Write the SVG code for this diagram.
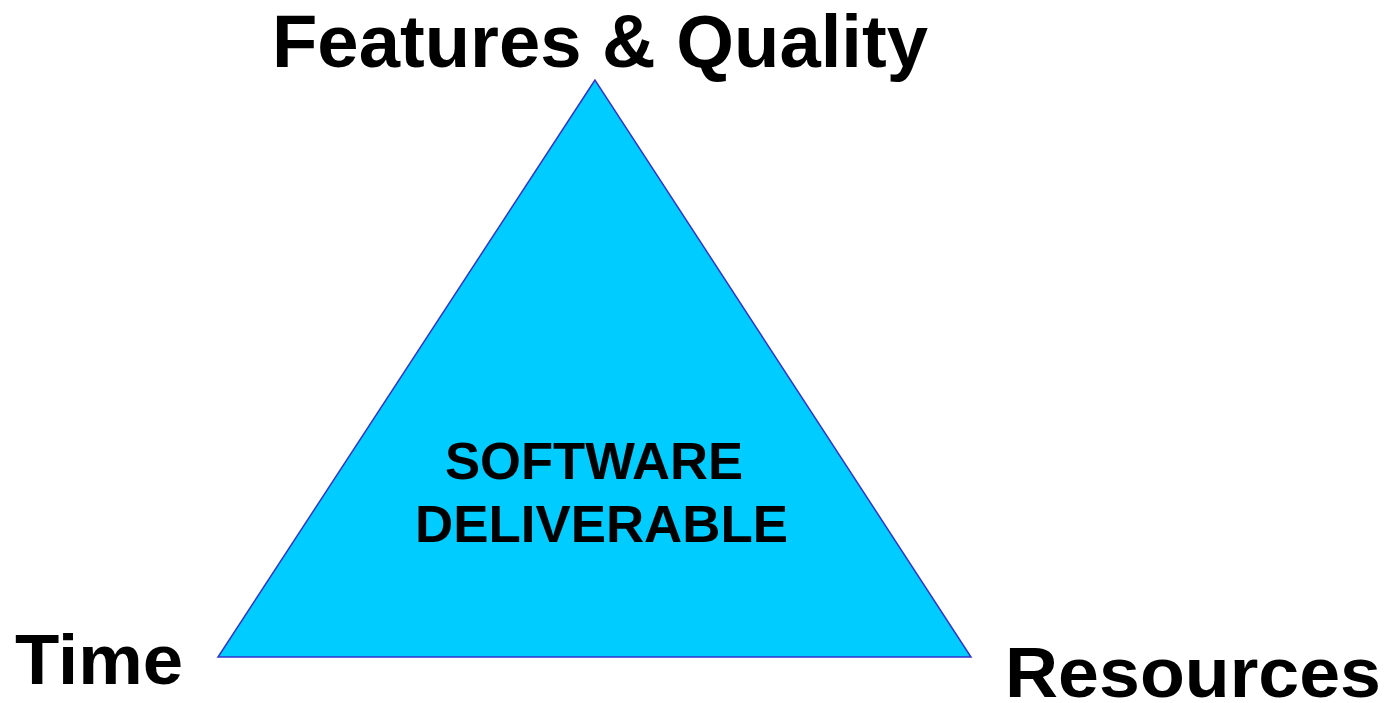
<svg xmlns="http://www.w3.org/2000/svg" width="1386" height="703" viewBox="0 0 1386 703">
<style>
.lbl{font-family:"Liberation Sans",Arial,sans-serif;font-weight:bold;fill:#000}
</style>
<rect width="1386" height="703" fill="#fff"/>
<g id="triangle">
<polygon points="595,80 218,657 971,657" fill="#00CCFF" stroke="#3333CC" stroke-width="1.5" stroke-linejoin="miter"/>
<text class="lbl" x="445" y="479" font-size="52" textLength="298" lengthAdjust="spacingAndGlyphs">SOFTWARE</text>
<text class="lbl" x="415" y="542" font-size="52" textLength="373" lengthAdjust="spacingAndGlyphs">DELIVERABLE</text>
</g>
<g id="features"><text class="lbl" x="272" y="67" font-size="74" textLength="656" lengthAdjust="spacingAndGlyphs">Features &amp; Quality</text></g>
<g id="time"><text class="lbl" x="15" y="684" font-size="71" textLength="168" lengthAdjust="spacingAndGlyphs">Time</text></g>
<g id="resources"><text class="lbl" x="1005" y="697" font-size="71" textLength="376" lengthAdjust="spacingAndGlyphs">Resources</text></g>
<g id="connectors"/>
</svg>
